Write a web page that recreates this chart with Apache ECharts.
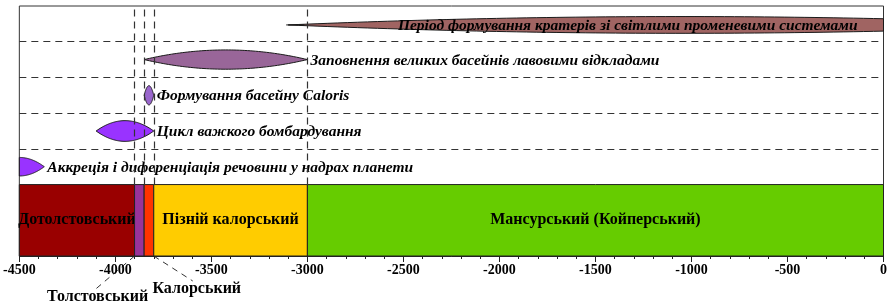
<!DOCTYPE html>
<html>
<head>
<meta charset="utf-8">
<script src="https://cdn.jsdelivr.net/npm/echarts@6/dist/echarts.min.js"></script>
<style>
html, body { margin: 0; padding: 0; background: #fff; }
#chart { width: 890px; height: 307px; }
</style>
</head>
<body>
<div id="chart"></div>
<script>
// geological periods (million years)
const periodNames = ['Дотолстовський', 'Толстовський', 'Калорський', 'Пізній калорський', 'Мансурський (Койперський)']
const periodStart = [-4500, -3900, -3850, -3800, -3000]
const periodEnd = [-3900, -3850, -3800, -3000, 0]
const periodInside = [true, false, false, true, true]
const periodColors = ['#990000', '#993399', '#ff3300', '#ffcc00', '#66cc00']

// events drawn as spindles
const eventNames = [
  'Період формування кратерів зі світлими променевими системами',
  'Заповнення великих басейнів лавовими відкладами',
  'Формування басейну Caloris',
  'Цикл важкого бомбардування',
  'Аккреція і диференціація речовини у надрах планети'
]
const eventStart = [-3100, -3850, -3850, -4100, -4630]
const eventEnd = [1000, -3000, -3800, -3800, -4370]
const eventRow = [6.47, 5.5, 4.5, 3.5, 2.5]
const eventThick = [0.47, 0.54, 0.54, 0.58, 0.52]
const eventColors = ['#a06462', '#996699', '#9966cc', '#9933ff', '#9933ff']

const rowLines = [3, 4, 5, 6]
const xMin = -4500, xMax = 0

const serif = '"Liberation Serif", "Times New Roman", serif'
const chart = echarts.init(document.getElementById('chart'))

const markData = rowLines.map(v => ({ yAxis: v }))
periodStart.slice(1).forEach(v => {
  markData.push([{ coord: [v, 2] }, { coord: [v, 7] }])
})

const option = {
  animation: false,
  grid: { left: 19, right: 6, top: 6, bottom: 51, show: true, borderColor: '#333', borderWidth: 1 },
  xAxis: {
    type: 'value', min: xMin, max: xMax, interval: 500,
    axisLine: { show: true, lineStyle: { color: '#222', width: 1 } },
    axisTick: { show: true, length: 6, lineStyle: { color: '#222' } },
    minorTick: { show: true, splitNumber: 5, length: 3, lineStyle: { color: '#222' } },
    splitLine: { show: false },
    axisLabel: { color: '#000', fontFamily: serif, fontWeight: 'bold', fontSize: 14, margin: 7, formatter: v => String(v) }
  },
  yAxis: { type: 'value', min: 0, max: 7, show: false },
  series: [
    {
      type: 'custom',
      z: 2,
      data: periodNames.map((n, i) => [periodStart[i], periodEnd[i], i]),
      renderItem(params, api) {
        const i = api.value(2)
        const p0 = api.coord([api.value(0), 2])
        const p1 = api.coord([api.value(1), 0])
        const children = [{
          type: 'rect',
          shape: { x: p0[0], y: p0[1], width: p1[0] - p0[0], height: p1[1] - p0[1] },
          style: { fill: periodColors[i], stroke: '#222', lineWidth: 1 }
        }]
        if (periodInside[i]) {
          children.push({
            type: 'text',
            x: (p0[0] + p1[0]) / 2, y: (p0[1] + p1[1]) / 2,
            style: { text: periodNames[i], font: 'bold 16px ' + serif, fill: '#000', align: 'center', verticalAlign: 'middle' }
          })
        }
        return { type: 'group', children }
      },
      markLine: {
        silent: true, symbol: 'none', label: { show: false },
        lineStyle: { type: [7, 5], color: '#333', width: 1.2 },
        data: markData
      }
    },
    {
      type: 'custom',
      z: 3,
      data: eventNames.map((n, i) => [eventStart[i], eventEnd[i], eventRow[i], eventThick[i], i]),
      renderItem(params, api) {
        const s = api.value(0), e = api.value(1), row = api.value(2), th = api.value(3), i = api.value(4)
        const a = Math.max(s, xMin), b = Math.min(e, xMax)
        const N = 60
        const top = [], bot = []
        for (let k = 0; k <= N; k++) {
          const x = a + (b - a) * k / N
          const t = (x - s) / (e - s)
          const hw = th / 2 * 4 * t * (1 - t)
          top.push(api.coord([x, row + hw]))
          bot.unshift(api.coord([x, row - hw]))
        }
        const pts = top.concat(bot)
        const end = api.coord([b, row])
        const children = [{
          type: 'polygon',
          shape: { points: pts },
          style: { fill: eventColors[i], stroke: '#1a1a1a', lineWidth: 1 }
        }]
        const txt = { text: eventNames[i], font: 'italic bold 15.5px ' + serif, fill: '#000', verticalAlign: 'middle' }
        if (i === 0) {
          children.push({ type: 'text', x: end[0] - 26, y: end[1] + 1, style: Object.assign(txt, { align: 'right' }) })
          // thin lead-in at the pointed end
          const st = api.coord([s, row])
          children.push({ type: 'line', shape: { x1: st[0] - 2, y1: st[1], x2: st[0] + 16, y2: st[1] }, style: { stroke: '#1a1a1a', lineWidth: 1 } })
        } else {
          children.push({ type: 'text', x: end[0] + 3, y: end[1] + 1, style: Object.assign(txt, { align: 'left' }) })
        }
        return { type: 'group', children }
      }
    }
  ]
}
chart.setOption(option)

// leader lines for narrow periods, placed under the axis
const graphics = []
const leaders = [
  { i: 1, at: periodStart[1], dx: -40, dy: 34, lx: -37, ly: 41 },
  { i: 2, at: periodEnd[2], dx: 39, dy: 25, lx: 43, ly: 33 }
]
leaders.forEach(l => {
  const p = chart.convertToPixel({ gridIndex: 0 }, [l.at, 0])
  graphics.push({
    type: 'line', silent: true,
    shape: { x1: p[0], y1: p[1], x2: p[0] + l.dx, y2: p[1] + l.dy },
    style: { stroke: '#333', lineWidth: 1, lineDash: [6, 5] }
  })
  graphics.push({
    type: 'text', silent: true,
    x: p[0] + l.lx, y: p[1] + l.ly,
    style: { text: periodNames[l.i], font: 'bold 16px ' + serif, fill: '#000', align: 'center', verticalAlign: 'middle' }
  })
})
chart.setOption({ graphic: graphics })
</script>
</body>
</html>
